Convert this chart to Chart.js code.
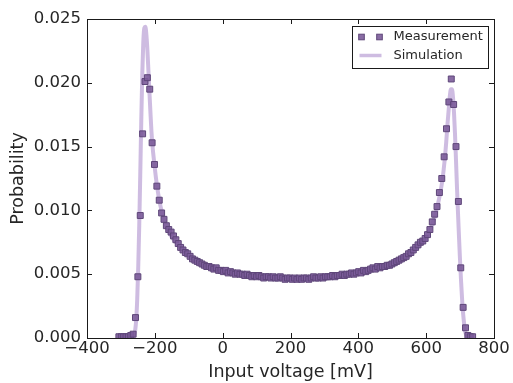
<!DOCTYPE html>
<html>
<head>
<meta charset="utf-8">
<script src="https://cdn.jsdelivr.net/npm/chart.js@4/dist/chart.umd.min.js"></script>
<style>
html,body{margin:0;padding:0;background:#fff;}
#wrap{width:513px;height:383px;position:relative;}
</style>
</head>
<body>
<div id="wrap"><canvas id="c" width="513" height="383"></canvas></div>
<script>
// ---- data ----
const measX = [-306,-299,-292,-285,-278,-271,-264,-257,-250,-243,-236,-229,-222,-215,-208,-201,-194,-187,-180,-173,-166,-159,-152,-145,-138,-131,-124,-117,-110,-103,-96,-89,-82,-75,-68,-61,-54,-47,-40,-33,-26,-19,-12,-5,2,9,16,23,30,37,44,51,58,65,72,79,86,93,100,107,114,121,128,135,142,149,156,163,170,177,184,191,198,205,212,219,226,233,240,247,254,261,268,275,282,289,296,303,310,317,324,331,338,345,352,359,366,373,380,387,394,401,408,415,422,429,436,443,450,457,464,471,478,485,492,499,506,513,520,527,534,541,548,555,562,569,576,583,590,597,604,611,618,625,632,639,646,653,660,667,674,681,688,695,702,709,716,723,730,737];
const measY = [0.0001,0.0001,0.0001,0.0001,0.0001,0.0002,0.0003,0.0016,0.0048,0.0096,0.0160,0.0201,0.0204,0.0195,0.0153,0.0136,0.0119,0.0108,0.0098,0.0093,0.0088,0.0085,0.0083,0.0080,0.0077,0.0074,0.0071,0.0069,0.0067,0.0066,0.0064,0.0062,0.0061,0.0060,0.0059,0.0058,0.0057,0.0056,0.0056,0.0055,0.0054,0.0055,0.0053,0.0053,0.0052,0.0053,0.0051,0.0052,0.0051,0.0050,0.0051,0.0050,0.0050,0.0049,0.0050,0.0049,0.0048,0.0049,0.0048,0.0049,0.0048,0.0047,0.0048,0.0048,0.0047,0.0048,0.0047,0.0047,0.0048,0.0047,0.0046,0.0047,0.0047,0.0046,0.0047,0.0046,0.0047,0.0046,0.0047,0.0047,0.0046,0.0047,0.0048,0.0047,0.0047,0.0048,0.0047,0.0048,0.0048,0.0048,0.0049,0.0048,0.0049,0.0049,0.0050,0.0049,0.0050,0.0050,0.0051,0.0050,0.0051,0.0052,0.0051,0.0053,0.0052,0.0053,0.0054,0.0055,0.0054,0.0056,0.0055,0.0056,0.0056,0.0057,0.0057,0.0058,0.0059,0.0060,0.0061,0.0062,0.0063,0.0064,0.0066,0.0067,0.0069,0.0071,0.0073,0.0075,0.0076,0.0078,0.0081,0.0085,0.0091,0.0097,0.0103,0.0114,0.0125,0.0142,0.0164,0.0185,0.0203,0.0183,0.0150,0.0107,0.0055,0.0024,0.0008,0.0002,0.0001,0.0001];

const simX = [-275,-268,-262,-258,-255,-252,-249,-246,-243,-240,-237,-234,-231,-228,-225,-222,-219,-216,-213,-210,-206,-202,-196,-190,-183,-176,-168,-160,-150,-135,-120,-100,-80,-60,-40,-20,0,25,50,75,100,150,200,250,300,350,400,450,500,530,555,575,595,610,622,632,641,648,654,659,663,667,670,673,676,679,682,685,688,691,694,697,700,703,706,709,712,715,719,725,735];
const simY = [0,0.00005,0.0002,0.0006,0.0014,0.0030,0.0055,0.0088,0.0128,0.0170,0.0207,0.0232,0.0243,0.0244,0.0238,0.0226,0.0210,0.0193,0.0177,0.0162,0.0148,0.0138,0.0124,0.0113,0.0103,0.0096,0.0089,0.0084,0.0079,0.0074,0.0070,0.0065,0.0061,0.0058,0.0056,0.0054,0.0053,0.0051,0.0050,0.0049,0.0048,0.0047,0.0047,0.0047,0.0048,0.0049,0.0051,0.0054,0.0057,0.0061,0.0066,0.0071,0.0077,0.0084,0.0092,0.0102,0.0113,0.0124,0.0138,0.0153,0.0168,0.0181,0.0190,0.0195,0.0195,0.0189,0.0177,0.0160,0.0139,0.0117,0.0097,0.0078,0.0060,0.0044,0.0030,0.0019,0.0011,0.0005,0.0002,0.00005,0];

const xTicks = [-400,-200,0,200,400,600,800];
const yTicks = [0.000,0.005,0.010,0.015,0.020,0.025];
const labels = ['Measurement','Simulation'];
const xTitle = 'Input voltage [mV]';
const yTitle = 'Probability';

// ---- style ----
const TXT = '#262626';
const FONT = 'DejaVu Sans';
const measFill = 'rgba(124,92,154,0.9)';
const measEdge = '#5e4679';
const simColor = 'rgba(190,165,215,0.75)';

const CA = {left:87, right:494, top:19, bottom:338};

const framePlugin = {
  id:'frame',
  afterDatasetsDraw(chart){
    const {ctx, chartArea:a, scales:{x,y}} = chart;
    ctx.save();
    ctx.strokeStyle = '#1a1a1a';
    ctx.lineWidth = 1;
    ctx.beginPath();
    const L = 5;
    xTicks.forEach(v=>{
      const px = Math.round(x.getPixelForValue(v))+0.5;
      ctx.moveTo(px, a.bottom); ctx.lineTo(px, a.bottom-L);
      ctx.moveTo(px, a.top); ctx.lineTo(px, a.top+L);
    });
    yTicks.forEach(v=>{
      const py = Math.round(y.getPixelForValue(v))+0.5;
      ctx.moveTo(a.left, py); ctx.lineTo(a.left+L, py);
      ctx.moveTo(a.right, py); ctx.lineTo(a.right-L, py);
    });
    ctx.stroke();
    ctx.strokeRect(Math.round(a.left)+0.5, Math.round(a.top)+0.5, Math.round(a.right-a.left), Math.round(a.bottom-a.top));
    // legend
    const bx = a.right-141.5, by = a.top+7.5, bw = 136, bh = 42;
    ctx.fillStyle = '#fff';
    ctx.fillRect(bx, by, bw, bh);
    ctx.strokeStyle = '#1a1a1a';
    ctx.strokeRect(bx, by, bw, bh);
    const r1 = by+10.5, r2 = by+29;
    [bx+9, bx+27].forEach(cx=>{
      ctx.fillStyle = measFill; ctx.strokeStyle = measEdge;
      ctx.fillRect(cx-2.8, r1-2.8, 5.6, 5.6);
      ctx.strokeRect(cx-2.8, r1-2.8, 5.6, 5.6);
    });
    ctx.strokeStyle = simColor; ctx.lineWidth = 3.5;
    ctx.beginPath(); ctx.moveTo(bx+7, r2); ctx.lineTo(bx+29, r2); ctx.stroke();
    ctx.fillStyle = TXT;
    ctx.font = '13px "'+FONT+'"';
    ctx.textBaseline = 'middle';
    ctx.textAlign = 'left';
    ctx.fillText(labels[0], bx+41, r1);
    ctx.fillText(labels[1], bx+41, r2);
    ctx.restore();
  }
};

new Chart(document.getElementById('c'), {
  type:'scatter',
  data:{
    datasets:[
      {label:labels[0], data:measX.map((v,i)=>({x:v,y:measY[i]})),
       pointStyle:'rect', pointRadius:4.2, pointBorderWidth:1,
       backgroundColor:measFill, borderColor:measEdge, showLine:false},
      {label:labels[1], data:simX.map((v,i)=>({x:v,y:simY[i]})),
       showLine:true, pointRadius:0, borderColor:simColor, borderWidth:4,
       cubicInterpolationMode:'monotone', fill:false}
    ]
  },
  options:{
    responsive:false, animation:false, devicePixelRatio:1,
    layout:{padding:{left:0, top:CA.top, right:513-CA.right, bottom:0}},
    plugins:{legend:{display:false}, tooltip:{enabled:false}},
    scales:{
      x:{type:'linear', min:-400, max:800,
         afterBuildTicks(s){ s.ticks = xTicks.map(v=>({value:v})); },
         afterFit(s){ s.height = 383-CA.bottom; },
         grid:{display:false, drawTicks:false},
         border:{display:false},
         ticks:{color:TXT, font:{family:FONT, size:16.5}, padding:1,
                callback:v=>String(v).replace('-','\u2212'), maxRotation:0},
         title:{display:true, text:xTitle, color:TXT, font:{family:FONT, size:17.5}, padding:{top:1,bottom:0}}
      },
      y:{type:'linear', min:0, max:0.025,
         afterBuildTicks(s){ s.ticks = yTicks.map(v=>({value:v})); },
         afterFit(s){ s.width = CA.left; },
         grid:{display:false, drawTicks:false},
         border:{display:false},
         ticks:{color:TXT, font:{family:FONT, size:16.5}, padding:6,
                callback:v=>v.toFixed(3)},
         title:{display:true, text:yTitle, color:TXT, font:{family:FONT, size:17.5}, padding:{top:8,bottom:0}}
      }
    }
  },
  plugins:[framePlugin]
});
</script>
</body>
</html>
